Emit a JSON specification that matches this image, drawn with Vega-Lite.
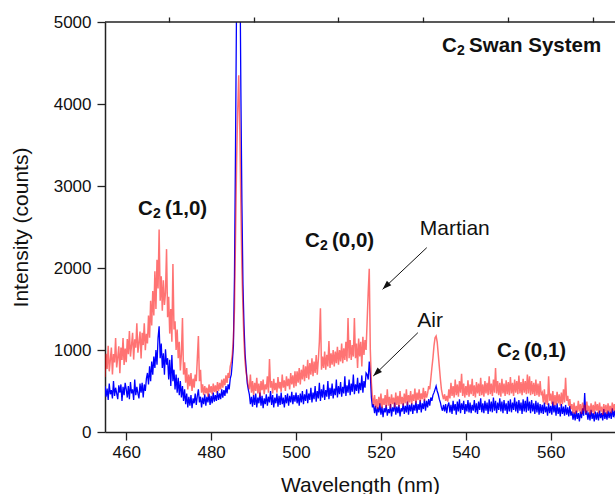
{
"$schema":"https://vega.github.io/schema/vega-lite/v6.json",
"width":510,"height":410,
"autosize":"none",
"padding":{"left":105,"top":22,"right":0,"bottom":62},
"background":"white",
"config":{"view":{"stroke":null},"font":"Liberation Sans",
 "axis":{"grid":false,"domainColor":"#222","domainWidth":1.5,"tickColor":"#222","tickWidth":1.3,"tickSize":8,"labelFontSize":17,"labelColor":"#111","labelFont":"Liberation Sans","titleFont":"Liberation Sans","titleFontSize":21,"titleFontWeight":"normal","titleColor":"#111","labelFlush":false}},
"resolve":{"axis":{"x":"independent","y":"independent"}},
"datasets":{"spec":[
{"wl":455,"air":560,"mars":672},{"wl":455.25,"air":430,"mars":953},{"wl":455.5,"air":530,"mars":770},{"wl":455.75,"air":390,"mars":1051},
{"wl":456,"air":590,"mars":740},{"wl":456.25,"air":460,"mars":877},{"wl":456.5,"air":510,"mars":1030},{"wl":456.75,"air":410,"mars":703},
{"wl":457,"air":620,"mars":952},{"wl":457.25,"air":440,"mars":849},{"wl":457.5,"air":540,"mars":1146},{"wl":457.75,"air":470,"mars":787},
{"wl":458,"air":400,"mars":908},{"wl":458.25,"air":570,"mars":1045},{"wl":458.5,"air":480,"mars":718},{"wl":458.75,"air":580,"mars":1031},
{"wl":459,"air":380,"mars":880},{"wl":459.25,"air":550,"mars":1145},{"wl":459.5,"air":450,"mars":818},{"wl":459.75,"air":600,"mars":1019},
{"wl":460,"air":520,"mars":852},{"wl":460.25,"air":420,"mars":1133},{"wl":460.5,"air":560,"mars":950},{"wl":460.75,"air":400,"mars":1231},
{"wl":461,"air":610,"mars":920},{"wl":461.25,"air":470,"mars":1057},{"wl":461.5,"air":520,"mars":1210},{"wl":461.75,"air":390,"mars":883},
{"wl":462,"air":640,"mars":1132},{"wl":462.25,"air":450,"mars":1029},{"wl":462.5,"air":550,"mars":1326},{"wl":462.75,"air":470,"mars":967},
{"wl":463,"air":410,"mars":1088},{"wl":463.25,"air":590,"mars":1225},{"wl":463.5,"air":480,"mars":898},{"wl":463.75,"air":600,"mars":1211},
{"wl":464,"air":420,"mars":1060},{"wl":464.25,"air":580,"mars":1325},{"wl":464.5,"air":500,"mars":998},{"wl":464.75,"air":650,"mars":1199},
{"wl":465,"air":720,"mars":1080},{"wl":465.25,"air":580,"mars":1420},{"wl":465.5,"air":800,"mars":1150},{"wl":465.75,"air":620,"mars":1600},
{"wl":466,"air":860,"mars":1300},{"wl":466.25,"air":700,"mars":1720},{"wl":466.5,"air":920,"mars":1420},{"wl":466.75,"air":780,"mars":1960},
{"wl":467,"air":1000,"mars":1500},{"wl":467.25,"air":820,"mars":2100},{"wl":467.5,"air":1150,"mars":1750},{"wl":467.75,"air":1290,"mars":2470},
{"wl":468,"air":900,"mars":1600},{"wl":468.25,"air":1080,"mars":1900},{"wl":468.5,"air":780,"mars":1480},{"wl":468.75,"air":960,"mars":1850},
{"wl":469,"air":700,"mars":1550},{"wl":469.25,"air":1010,"mars":1700},{"wl":469.5,"air":820,"mars":2230},{"wl":469.75,"air":900,"mars":1400},
{"wl":470,"air":640,"mars":1650},{"wl":470.25,"air":880,"mars":1200},{"wl":470.5,"air":560,"mars":1500},{"wl":470.75,"air":940,"mars":1100},
{"wl":471,"air":620,"mars":2050},{"wl":471.25,"air":760,"mars":1250},{"wl":471.5,"air":520,"mars":1350},{"wl":471.75,"air":700,"mars":1000},
{"wl":472,"air":480,"mars":1250},{"wl":472.25,"air":660,"mars":900},{"wl":472.5,"air":450,"mars":1100},{"wl":472.75,"air":620,"mars":750},
{"wl":473,"air":420,"mars":950},{"wl":473.25,"air":560,"mars":1390},{"wl":473.5,"air":380,"mars":700},{"wl":473.75,"air":520,"mars":850},
{"wl":474,"air":340,"mars":600},{"wl":474.25,"air":470,"mars":780},{"wl":474.5,"air":300,"mars":520},{"wl":474.75,"air":430,"mars":700},
{"wl":475,"air":320,"mars":560},{"wl":475.25,"air":450,"mars":720},{"wl":475.5,"air":290,"mars":500},{"wl":475.75,"air":410,"mars":650},
{"wl":476,"air":350,"mars":540},{"wl":476.25,"air":470,"mars":700},{"wl":476.5,"air":330,"mars":620},{"wl":476.75,"air":440,"mars":900},
{"wl":477,"air":520,"mars":1170},{"wl":477.25,"air":360,"mars":620},{"wl":477.5,"air":430,"mars":760},{"wl":477.75,"air":300,"mars":480},
{"wl":478,"air":420,"mars":580},{"wl":478.25,"air":340,"mars":450},{"wl":478.5,"air":460,"mars":560},{"wl":478.75,"air":320,"mars":470},
{"wl":479,"air":430,"mars":540},{"wl":479.25,"air":360,"mars":430},{"wl":479.5,"air":470,"mars":580},{"wl":479.75,"air":330,"mars":480},
{"wl":480,"air":440,"mars":560},{"wl":480.25,"air":350,"mars":460},{"wl":480.5,"air":480,"mars":590},{"wl":480.75,"air":370,"mars":490},
{"wl":481,"air":450,"mars":570},{"wl":481.25,"air":380,"mars":480},{"wl":481.5,"air":500,"mars":610},{"wl":481.75,"air":390,"mars":500},
{"wl":482,"air":470,"mars":600},{"wl":482.25,"air":400,"mars":520},{"wl":482.5,"air":520,"mars":640},{"wl":482.75,"air":420,"mars":540},
{"wl":483,"air":510,"mars":650},{"wl":483.25,"air":440,"mars":570},{"wl":483.5,"air":560,"mars":690},{"wl":483.75,"air":470,"mars":600},
{"wl":484,"air":580,"mars":720},{"wl":484.25,"air":520,"mars":660},{"wl":484.5,"air":650,"mars":800},{"wl":484.75,"air":700,"mars":850},
{"wl":485,"air":850,"mars":950},{"wl":485.25,"air":1050,"mars":1150},{"wl":485.5,"air":1900,"mars":1500},{"wl":485.75,"air":3500,"mars":2400},
{"wl":486,"air":5300,"mars":3300},{"wl":486.25,"air":7000,"mars":3900},{"wl":486.5,"air":7500,"mars":4350},{"wl":486.75,"air":6000,"mars":3700},
{"wl":487,"air":4200,"mars":2800},{"wl":487.25,"air":2800,"mars":2000},{"wl":487.5,"air":1800,"mars":1500},{"wl":487.75,"air":1300,"mars":1100},
{"wl":488,"air":950,"mars":850},{"wl":488.25,"air":780,"mars":720},{"wl":488.5,"air":600,"mars":650},{"wl":488.75,"air":520,"mars":560},
{"wl":489,"air":460,"mars":520},{"wl":489.25,"air":340,"mars":700},{"wl":489.5,"air":430,"mars":480},{"wl":489.75,"air":310,"mars":620},
{"wl":490,"air":450,"mars":450},{"wl":490.25,"air":330,"mars":600},{"wl":490.5,"air":470,"mars":500},{"wl":490.75,"air":300,"mars":660},
{"wl":491,"air":420,"mars":470},{"wl":491.25,"air":350,"mars":590},{"wl":491.5,"air":480,"mars":430},{"wl":491.75,"air":320,"mars":620},
{"wl":492,"air":440,"mars":510},{"wl":492.25,"air":290,"mars":640},{"wl":492.5,"air":410,"mars":460},{"wl":492.75,"air":340,"mars":580},
{"wl":493,"air":460,"mars":520},{"wl":493.25,"air":320,"mars":680},{"wl":493.5,"air":430,"mars":480},{"wl":493.75,"air":360,"mars":890},
{"wl":494,"air":500,"mars":540},{"wl":494.25,"air":330,"mars":620},{"wl":494.5,"air":450,"mars":470},{"wl":494.75,"air":300,"mars":650},
{"wl":495,"air":420,"mars":510},{"wl":495.25,"air":350,"mars":600},{"wl":495.5,"air":470,"mars":480},{"wl":495.75,"air":310,"mars":670},
{"wl":496,"air":440,"mars":530},{"wl":496.25,"air":330,"mars":610},{"wl":496.5,"air":480,"mars":490},{"wl":496.75,"air":340,"mars":700},
{"wl":497,"air":420,"mars":540},{"wl":497.25,"air":300,"mars":630},{"wl":497.5,"air":450,"mars":500},{"wl":497.75,"air":350,"mars":680},
{"wl":498,"air":470,"mars":560},{"wl":498.25,"air":320,"mars":650},{"wl":498.5,"air":440,"mars":520},{"wl":498.75,"air":360,"mars":720},
{"wl":499,"air":490,"mars":580},{"wl":499.25,"air":340,"mars":690},{"wl":499.5,"air":450,"mars":540},{"wl":499.75,"air":370,"mars":740},
{"wl":500,"air":480,"mars":560},{"wl":500.25,"air":350,"mars":740},{"wl":500.5,"air":450,"mars":600},{"wl":500.75,"air":320,"mars":780},
{"wl":501,"air":470,"mars":580},{"wl":501.25,"air":360,"mars":760},{"wl":501.5,"air":500,"mars":640},{"wl":501.75,"air":340,"mars":820},
{"wl":502,"air":460,"mars":620},{"wl":502.25,"air":380,"mars":800},{"wl":502.5,"air":520,"mars":660},{"wl":502.75,"air":350,"mars":880},
{"wl":503,"air":470,"mars":640},{"wl":503.25,"air":390,"mars":840},{"wl":503.5,"air":540,"mars":700},{"wl":503.75,"air":360,"mars":900},
{"wl":504,"air":480,"mars":680},{"wl":504.25,"air":400,"mars":860},{"wl":504.5,"air":560,"mars":720},{"wl":504.75,"air":370,"mars":940},
{"wl":505,"air":500,"mars":700},{"wl":505.25,"air":410,"mars":880},{"wl":505.5,"air":600,"mars":1100},{"wl":505.75,"air":380,"mars":1510},
{"wl":506,"air":520,"mars":760},{"wl":506.25,"air":420,"mars":920},{"wl":506.5,"air":580,"mars":780},{"wl":506.75,"air":390,"mars":980},
{"wl":507,"air":510,"mars":760},{"wl":507.25,"air":430,"mars":940},{"wl":507.5,"air":620,"mars":800},{"wl":507.75,"air":400,"mars":1110},
{"wl":508,"air":540,"mars":780},{"wl":508.25,"air":440,"mars":960},{"wl":508.5,"air":590,"mars":820},{"wl":508.75,"air":410,"mars":1000},
{"wl":509,"air":530,"mars":800},{"wl":509.25,"air":450,"mars":980},{"wl":509.5,"air":640,"mars":840},{"wl":509.75,"air":420,"mars":1040},
{"wl":510,"air":560,"mars":820},{"wl":510.25,"air":460,"mars":1000},{"wl":510.5,"air":610,"mars":860},{"wl":510.75,"air":430,"mars":1080},
{"wl":511,"air":550,"mars":840},{"wl":511.25,"air":470,"mars":1020},{"wl":511.5,"air":680,"mars":880},{"wl":511.75,"air":440,"mars":1100},
{"wl":512,"air":570,"mars":860},{"wl":512.25,"air":480,"mars":1390},{"wl":512.5,"air":640,"mars":900},{"wl":512.75,"air":450,"mars":1120},
{"wl":513,"air":590,"mars":880},{"wl":513.25,"air":490,"mars":1060},{"wl":513.5,"air":700,"mars":920},{"wl":513.75,"air":460,"mars":1390},
{"wl":514,"air":580,"mars":900},{"wl":514.25,"air":500,"mars":1080},{"wl":514.5,"air":660,"mars":780},{"wl":514.75,"air":470,"mars":1140},
{"wl":515,"air":600,"mars":920},{"wl":515.25,"air":510,"mars":1100},{"wl":515.5,"air":690,"mars":800},{"wl":515.75,"air":480,"mars":1160},
{"wl":516,"air":620,"mars":940},{"wl":516.25,"air":540,"mars":1120},{"wl":516.5,"air":720,"mars":1000},{"wl":516.75,"air":700,"mars":1350},
{"wl":517,"air":640,"mars":1700},{"wl":517.25,"air":860,"mars":1990},{"wl":517.5,"air":700,"mars":1000},{"wl":517.75,"air":420,"mars":600},
{"wl":518,"air":300,"mars":420},{"wl":518.25,"air":340,"mars":330},{"wl":518.5,"air":230,"mars":450},{"wl":518.75,"air":320,"mars":300},
{"wl":519,"air":200,"mars":400},{"wl":519.25,"air":300,"mars":280},{"wl":519.5,"air":240,"mars":430},{"wl":519.75,"air":350,"mars":320},
{"wl":520,"air":210,"mars":470},{"wl":520.25,"air":310,"mars":290},{"wl":520.5,"air":180,"mars":410},{"wl":520.75,"air":290,"mars":330},
{"wl":521,"air":240,"mars":450},{"wl":521.25,"air":330,"mars":300},{"wl":521.5,"air":200,"mars":520},{"wl":521.75,"air":280,"mars":320},
{"wl":522,"air":230,"mars":430},{"wl":522.25,"air":340,"mars":290},{"wl":522.5,"air":190,"mars":460},{"wl":522.75,"air":300,"mars":340},
{"wl":523,"air":250,"mars":420},{"wl":523.25,"air":360,"mars":300},{"wl":523.5,"air":210,"mars":480},{"wl":523.75,"air":310,"mars":330},
{"wl":524,"air":230,"mars":440},{"wl":524.25,"air":330,"mars":310},{"wl":524.5,"air":190,"mars":500},{"wl":524.75,"air":290,"mars":340},
{"wl":525,"air":250,"mars":430},{"wl":525.25,"air":350,"mars":320},{"wl":525.5,"air":220,"mars":470},{"wl":525.75,"air":320,"mars":350},
{"wl":526,"air":240,"mars":520},{"wl":526.25,"air":370,"mars":330},{"wl":526.5,"air":210,"mars":450},{"wl":526.75,"air":330,"mars":360},
{"wl":527,"air":250,"mars":500},{"wl":527.25,"air":350,"mars":340},{"wl":527.5,"air":220,"mars":460},{"wl":527.75,"air":330,"mars":380},
{"wl":528,"air":260,"mars":530},{"wl":528.25,"air":380,"mars":350},{"wl":528.5,"air":230,"mars":480},{"wl":528.75,"air":340,"mars":390},
{"wl":529,"air":270,"mars":520},{"wl":529.25,"air":390,"mars":370},{"wl":529.5,"air":240,"mars":470},{"wl":529.75,"air":350,"mars":400},
{"wl":530,"air":280,"mars":540},{"wl":530.25,"air":400,"mars":380},{"wl":530.5,"air":260,"mars":500},{"wl":530.75,"air":380,"mars":420},
{"wl":531,"air":300,"mars":470},{"wl":531.25,"air":400,"mars":560},{"wl":531.5,"air":320,"mars":520},{"wl":531.75,"air":420,"mars":650},
{"wl":532,"air":380,"mars":780},{"wl":532.25,"air":450,"mars":900},{"wl":532.5,"air":480,"mars":1050},{"wl":532.75,"air":520,"mars":1150},
{"wl":533,"air":560,"mars":1170},{"wl":533.25,"air":500,"mars":1100},{"wl":533.5,"air":460,"mars":950},{"wl":533.75,"air":400,"mars":800},
{"wl":534,"air":360,"mars":650},{"wl":534.25,"air":300,"mars":520},{"wl":534.5,"air":260,"mars":450},{"wl":534.75,"air":330,"mars":400},
{"wl":535,"air":250,"mars":460},{"wl":535.25,"air":340,"mars":380},{"wl":535.5,"air":230,"mars":440},{"wl":535.75,"air":320,"mars":370},
{"wl":536,"air":360,"mars":520},{"wl":536.25,"air":240,"mars":410},{"wl":536.5,"air":330,"mars":600},{"wl":536.75,"air":220,"mars":440},
{"wl":537,"air":380,"mars":560},{"wl":537.25,"air":260,"mars":420},{"wl":537.5,"air":340,"mars":640},{"wl":537.75,"air":210,"mars":450},
{"wl":538,"air":370,"mars":580},{"wl":538.25,"air":250,"mars":430},{"wl":538.5,"air":400,"mars":620},{"wl":538.75,"air":230,"mars":480},
{"wl":539,"air":350,"mars":710},{"wl":539.25,"air":270,"mars":440},{"wl":539.5,"air":380,"mars":590},{"wl":539.75,"air":220,"mars":420},
{"wl":540,"air":340,"mars":560},{"wl":540.25,"air":250,"mars":450},{"wl":540.5,"air":390,"mars":630},{"wl":540.75,"air":240,"mars":430},
{"wl":541,"air":360,"mars":580},{"wl":541.25,"air":230,"mars":460},{"wl":541.5,"air":330,"mars":650},{"wl":541.75,"air":260,"mars":440},
{"wl":542,"air":390,"mars":570},{"wl":542.25,"air":240,"mars":420},{"wl":542.5,"air":350,"mars":610},{"wl":542.75,"air":220,"mars":470},
{"wl":543,"air":370,"mars":590},{"wl":543.25,"air":270,"mars":440},{"wl":543.5,"air":410,"mars":660},{"wl":543.75,"air":240,"mars":450},
{"wl":544,"air":350,"mars":580},{"wl":544.25,"air":230,"mars":430},{"wl":544.5,"air":380,"mars":620},{"wl":544.75,"air":260,"mars":470},
{"wl":545,"air":360,"mars":600},{"wl":545.25,"air":220,"mars":450},{"wl":545.5,"air":400,"mars":680},{"wl":545.75,"air":250,"mars":460},
{"wl":546,"air":370,"mars":590},{"wl":546.25,"air":240,"mars":440},{"wl":546.5,"air":420,"mars":640},{"wl":546.75,"air":260,"mars":480},
{"wl":547,"air":380,"mars":780},{"wl":547.25,"air":230,"mars":470},{"wl":547.5,"air":360,"mars":620},{"wl":547.75,"air":270,"mars":450},
{"wl":548,"air":410,"mars":600},{"wl":548.25,"air":250,"mars":430},{"wl":548.5,"air":370,"mars":650},{"wl":548.75,"air":230,"mars":470},
{"wl":549,"air":390,"mars":590},{"wl":549.25,"air":260,"mars":440},{"wl":549.5,"air":350,"mars":630},{"wl":549.75,"air":220,"mars":460},
{"wl":550,"air":380,"mars":610},{"wl":550.25,"air":250,"mars":450},{"wl":550.5,"air":400,"mars":670},{"wl":550.75,"air":240,"mars":470},
{"wl":551,"air":360,"mars":600},{"wl":551.25,"air":270,"mars":440},{"wl":551.5,"air":420,"mars":640},{"wl":551.75,"air":250,"mars":480},
{"wl":552,"air":370,"mars":620},{"wl":552.25,"air":230,"mars":460},{"wl":552.5,"air":390,"mars":690},{"wl":552.75,"air":260,"mars":470},
{"wl":553,"air":360,"mars":610},{"wl":553.25,"air":220,"mars":450},{"wl":553.5,"air":400,"mars":650},{"wl":553.75,"air":250,"mars":480},
{"wl":554,"air":380,"mars":620},{"wl":554.25,"air":240,"mars":460},{"wl":554.5,"air":430,"mars":700},{"wl":554.75,"air":260,"mars":470},
{"wl":555,"air":370,"mars":680},{"wl":555.25,"air":230,"mars":450},{"wl":555.5,"air":390,"mars":620},{"wl":555.75,"air":250,"mars":460},
{"wl":556,"air":350,"mars":600},{"wl":556.25,"air":220,"mars":440},{"wl":556.5,"air":380,"mars":640},{"wl":556.75,"air":240,"mars":450},
{"wl":557,"air":360,"mars":590},{"wl":557.25,"air":210,"mars":430},{"wl":557.5,"air":340,"mars":620},{"wl":557.75,"air":230,"mars":450},
{"wl":558,"air":330,"mars":480},{"wl":558.25,"air":220,"mars":360},{"wl":558.5,"air":360,"mars":520},{"wl":558.75,"air":240,"mars":340},
{"wl":559,"air":310,"mars":460},{"wl":559.25,"air":200,"mars":330},{"wl":559.5,"air":350,"mars":680},{"wl":559.75,"air":230,"mars":380},
{"wl":560,"air":320,"mars":470},{"wl":560.25,"air":210,"mars":340},{"wl":560.5,"air":370,"mars":500},{"wl":560.75,"air":240,"mars":320},
{"wl":561,"air":330,"mars":450},{"wl":561.25,"air":200,"mars":330},{"wl":561.5,"air":350,"mars":490},{"wl":561.75,"air":220,"mars":350},
{"wl":562,"air":300,"mars":460},{"wl":562.25,"air":190,"mars":320},{"wl":562.5,"air":340,"mars":480},{"wl":562.75,"air":220,"mars":340},
{"wl":563,"air":310,"mars":520},{"wl":563.25,"air":200,"mars":360},{"wl":563.5,"air":330,"mars":660},{"wl":563.75,"air":210,"mars":380},
{"wl":564,"air":300,"mars":440},{"wl":564.25,"air":190,"mars":320},{"wl":564.5,"air":320,"mars":400},{"wl":564.75,"air":200,"mars":280},
{"wl":565,"air":250,"mars":340},{"wl":565.25,"air":150,"mars":230},{"wl":565.5,"air":240,"mars":360},{"wl":565.75,"air":140,"mars":220},
{"wl":566,"air":260,"mars":320},{"wl":566.25,"air":160,"mars":240},{"wl":566.5,"air":230,"mars":380},{"wl":566.75,"air":130,"mars":250},
{"wl":567,"air":250,"mars":340},{"wl":567.25,"air":170,"mars":220},{"wl":567.5,"air":290,"mars":360},{"wl":567.75,"air":200,"mars":260},
{"wl":568,"air":475,"mars":330},{"wl":568.25,"air":210,"mars":230},{"wl":568.5,"air":260,"mars":370},{"wl":568.75,"air":150,"mars":250},
{"wl":569,"air":240,"mars":320},{"wl":569.25,"air":140,"mars":210},{"wl":569.5,"air":270,"mars":350},{"wl":569.75,"air":160,"mars":240},
{"wl":570,"air":230,"mars":330},{"wl":570.25,"air":130,"mars":220},{"wl":570.5,"air":250,"mars":370},{"wl":570.75,"air":150,"mars":260},
{"wl":571,"air":240,"mars":340},{"wl":571.25,"air":140,"mars":230},{"wl":571.5,"air":260,"mars":360},{"wl":571.75,"air":170,"mars":250},
{"wl":572,"air":230,"mars":310},{"wl":572.25,"air":140,"mars":210},{"wl":572.5,"air":280,"mars":340},{"wl":572.75,"air":160,"mars":240},
{"wl":573,"air":240,"mars":330},{"wl":573.25,"air":150,"mars":220},{"wl":573.5,"air":260,"mars":350},{"wl":573.75,"air":170,"mars":250},
{"wl":574,"air":250,"mars":320},{"wl":574.25,"air":160,"mars":230},{"wl":574.5,"air":290,"mars":360},{"wl":574.75,"air":180,"mars":260},
{"wl":575,"air":260,"mars":340},{"wl":575.25,"air":170,"mars":240},{"wl":575.5,"air":280,"mars":370},{"wl":575.75,"air":180,"mars":250},
{"wl":576,"air":250,"mars":330}
],
"c2":[{"x":462.77,"y":2720,"main":"C","sub":"2","rest":"(1,0)"},{"x":502.11,"y":2330,"main":"C","sub":"2","rest":"(0,0)"},{"x":547.34,"y":988,"main":"C","sub":"2","rest":"(0,1)"},{"x":534.39,"y":4707,"main":"C","sub":"2","rest":"Swan System"}]
},
"layer":[
 {"data":{"name":"spec"},"mark":{"type":"line","color":"#0000ff","strokeWidth":1.3,"clip":true},
  "encoding":{
   "x":{"field":"wl","type":"quantitative","scale":{"domain":[455,575.14],"nice":false,"zero":false},
        "axis":{"title":"Wavelength (nm)","values":[460,480,500,520,540,560],"labelPadding":4,"titlePadding":14}},
   "y":{"field":"air","type":"quantitative","scale":{"domain":[0,5000],"nice":false,"zero":true},
        "axis":{"title":"Intensity (counts)","values":[0,1000,2000,3000,4000,5000],"format":"d","labelPadding":6,"titlePadding":22}}}},
 {"data":{"name":"spec"},"mark":{"type":"line","color":"#ff0000","strokeOpacity":0.55,"strokeWidth":1.5,"clip":true},
  "encoding":{"x":{"field":"wl","type":"quantitative","axis":null},"y":{"field":"mars","type":"quantitative","axis":null}}},
 {"data":{"values":[{"top":5000,"x0":455,"x1":575.14}]},"mark":{"type":"rule","color":"#222","strokeWidth":1.5},
  "encoding":{"y":{"field":"top","type":"quantitative","axis":{"values":[200,400,600,800,1200,1400,1600,1800,2200,2400,2600,2800,3200,3400,3600,3800,4200,4400,4600,4800],"labels":false,"domain":false,"title":null,"tickSize":5}},
   "x":{"field":"x0","type":"quantitative","axis":{"values":[470,490,510,530,550,570],"labels":false,"domain":false,"title":null,"tickSize":5}},"x2":{"field":"x1"}}},
 {"data":{"values":[{"x":530.8,"y":2248,"x2":520.4,"y2":1740},{"x":528.7,"y":1211,"x2":518.2,"y2":683}]},
  "mark":{"type":"rule","color":"#111","strokeWidth":1},
  "encoding":{"x":{"field":"x","type":"quantitative","axis":null},"y":{"field":"y","type":"quantitative","axis":null},"x2":{"field":"x2"},"y2":{"field":"y2"}}},
 {"data":{"values":[{"x":520.4,"y":1740},{"x":518.2,"y":683}]},
  "mark":{"type":"point","shape":"M0,0L-0.35,1L0.35,1Z","filled":true,"color":"#111","size":324,"angle":226,"opacity":1},
  "encoding":{"x":{"field":"x","type":"quantitative","axis":null},"y":{"field":"y","type":"quantitative","axis":null}}},
 {"data":{"name":"c2"},"mark":{"type":"text","font":"Liberation Sans","fontWeight":"bold","fontSize":20.5,"color":"#111","align":"left","baseline":"middle"},
  "encoding":{"x":{"field":"x","type":"quantitative","axis":null},"y":{"field":"y","type":"quantitative","axis":null},"text":{"field":"main"}}},
 {"data":{"name":"c2"},"mark":{"type":"text","font":"Liberation Sans","fontWeight":"bold","fontSize":14,"color":"#111","align":"left","baseline":"middle","dx":15,"dy":5}, 
  "encoding":{"x":{"field":"x","type":"quantitative","axis":null},"y":{"field":"y","type":"quantitative","axis":null},"text":{"field":"sub"}}},
 {"data":{"name":"c2"},"mark":{"type":"text","font":"Liberation Sans","fontWeight":"bold","fontSize":20.5,"color":"#111","align":"left","baseline":"middle","dx":27},
  "encoding":{"x":{"field":"x","type":"quantitative","axis":null},"y":{"field":"y","type":"quantitative","axis":null},"text":{"field":"rest"}}},
 {"data":{"values":[{"label":"Martian","x":537.4,"y":2475},{"label":"Air","x":531.6,"y":1354}]},
  "mark":{"type":"text","font":"Liberation Sans","fontSize":21,"color":"#111"},
  "encoding":{"x":{"field":"x","type":"quantitative","axis":null},"y":{"field":"y","type":"quantitative","axis":null},"text":{"field":"label"}}}
]
}
